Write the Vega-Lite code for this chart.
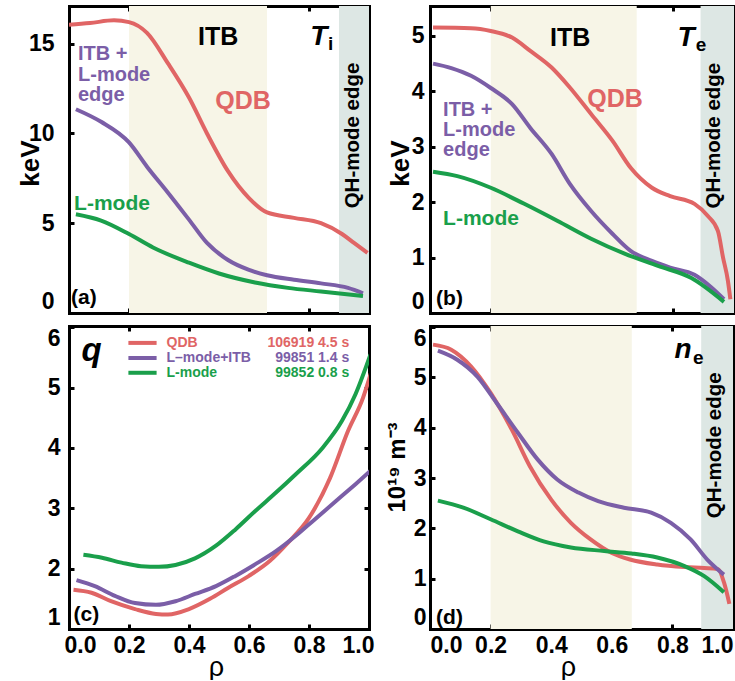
{
  "$schema": "https://vega.github.io/schema/vega-lite/v6.json",
  "padding": {"left": 17, "top": 4, "right": 0, "bottom": 0},
  "background": "white",
  "datasets": {
    "ti": [
      {"s": "QDB", "rho": 0.0, "val": 16.05}, {"s": "QDB", "rho": 0.07, "val": 16.15}, {"s": "QDB", "rho": 0.15, "val": 16.3}, {"s": "QDB", "rho": 0.2, "val": 16.2}, {"s": "QDB", "rho": 0.26, "val": 15.6}, {"s": "QDB", "rho": 0.33, "val": 13.9}, {"s": "QDB", "rho": 0.4, "val": 12.0}, {"s": "QDB", "rho": 0.46, "val": 10.0}, {"s": "QDB", "rho": 0.53, "val": 7.9}, {"s": "QDB", "rho": 0.6, "val": 6.4}, {"s": "QDB", "rho": 0.66, "val": 5.6}, {"s": "QDB", "rho": 0.75, "val": 5.3}, {"s": "QDB", "rho": 0.84, "val": 5.0}, {"s": "QDB", "rho": 0.91, "val": 4.4}, {"s": "QDB", "rho": 0.95, "val": 3.9}, {"s": "QDB", "rho": 0.995, "val": 3.35},
      {"s": "ITB", "rho": 0.023, "val": 11.35}, {"s": "ITB", "rho": 0.107, "val": 10.65}, {"s": "ITB", "rho": 0.2, "val": 9.5}, {"s": "ITB", "rho": 0.26, "val": 8.15}, {"s": "ITB", "rho": 0.33, "val": 6.7}, {"s": "ITB", "rho": 0.4, "val": 5.2}, {"s": "ITB", "rho": 0.46, "val": 3.9}, {"s": "ITB", "rho": 0.53, "val": 2.95}, {"s": "ITB", "rho": 0.6, "val": 2.4}, {"s": "ITB", "rho": 0.66, "val": 2.1}, {"s": "ITB", "rho": 0.75, "val": 1.85}, {"s": "ITB", "rho": 0.84, "val": 1.65}, {"s": "ITB", "rho": 0.93, "val": 1.4}, {"s": "ITB", "rho": 0.98, "val": 1.1},
      {"s": "L", "rho": 0.023, "val": 5.5}, {"s": "L", "rho": 0.107, "val": 5.15}, {"s": "L", "rho": 0.2, "val": 4.4}, {"s": "L", "rho": 0.28, "val": 3.65}, {"s": "L", "rho": 0.4, "val": 2.8}, {"s": "L", "rho": 0.5, "val": 2.2}, {"s": "L", "rho": 0.62, "val": 1.7}, {"s": "L", "rho": 0.73, "val": 1.4}, {"s": "L", "rho": 0.84, "val": 1.2}, {"s": "L", "rho": 0.98, "val": 0.95}
    ],
    "te": [
      {"s": "QDB", "rho": 0.01, "val": 5.15}, {"s": "QDB", "rho": 0.135, "val": 5.14}, {"s": "QDB", "rho": 0.2, "val": 5.09}, {"s": "QDB", "rho": 0.27, "val": 4.97}, {"s": "QDB", "rho": 0.33, "val": 4.73}, {"s": "QDB", "rho": 0.4, "val": 4.43}, {"s": "QDB", "rho": 0.46, "val": 4.07}, {"s": "QDB", "rho": 0.53, "val": 3.59}, {"s": "QDB", "rho": 0.6, "val": 3.11}, {"s": "QDB", "rho": 0.66, "val": 2.62}, {"s": "QDB", "rho": 0.73, "val": 2.26}, {"s": "QDB", "rho": 0.79, "val": 2.11}, {"s": "QDB", "rho": 0.87, "val": 1.97}, {"s": "QDB", "rho": 0.914, "val": 1.75}, {"s": "QDB", "rho": 0.947, "val": 1.48}, {"s": "QDB", "rho": 0.964, "val": 1.0}, {"s": "QDB", "rho": 0.98, "val": 0.58}, {"s": "QDB", "rho": 0.988, "val": 0.25},
      {"s": "ITB", "rho": 0.01, "val": 4.5}, {"s": "ITB", "rho": 0.07, "val": 4.42}, {"s": "ITB", "rho": 0.135, "val": 4.28}, {"s": "ITB", "rho": 0.2, "val": 4.06}, {"s": "ITB", "rho": 0.27, "val": 3.77}, {"s": "ITB", "rho": 0.33, "val": 3.34}, {"s": "ITB", "rho": 0.4, "val": 2.87}, {"s": "ITB", "rho": 0.46, "val": 2.33}, {"s": "ITB", "rho": 0.53, "val": 1.84}, {"s": "ITB", "rho": 0.6, "val": 1.43}, {"s": "ITB", "rho": 0.66, "val": 1.12}, {"s": "ITB", "rho": 0.73, "val": 0.94}, {"s": "ITB", "rho": 0.79, "val": 0.82}, {"s": "ITB", "rho": 0.87, "val": 0.69}, {"s": "ITB", "rho": 0.924, "val": 0.47}, {"s": "ITB", "rho": 0.967, "val": 0.25},
      {"s": "L", "rho": 0.01, "val": 2.55}, {"s": "L", "rho": 0.09, "val": 2.47}, {"s": "L", "rho": 0.2, "val": 2.26}, {"s": "L", "rho": 0.31, "val": 1.97}, {"s": "L", "rho": 0.42, "val": 1.66}, {"s": "L", "rho": 0.53, "val": 1.34}, {"s": "L", "rho": 0.64, "val": 1.07}, {"s": "L", "rho": 0.75, "val": 0.85}, {"s": "L", "rho": 0.86, "val": 0.63}, {"s": "L", "rho": 0.967, "val": 0.2}
    ],
    "q": [
      {"s": "QDB", "rho": 0.015, "val": 1.65}, {"s": "QDB", "rho": 0.075, "val": 1.6}, {"s": "QDB", "rho": 0.14, "val": 1.46}, {"s": "QDB", "rho": 0.22, "val": 1.33}, {"s": "QDB", "rho": 0.29, "val": 1.25}, {"s": "QDB", "rho": 0.33, "val": 1.24}, {"s": "QDB", "rho": 0.4, "val": 1.33}, {"s": "QDB", "rho": 0.47, "val": 1.5}, {"s": "QDB", "rho": 0.53, "val": 1.68}, {"s": "QDB", "rho": 0.6, "val": 1.88}, {"s": "QDB", "rho": 0.67, "val": 2.13}, {"s": "QDB", "rho": 0.73, "val": 2.43}, {"s": "QDB", "rho": 0.8, "val": 2.84}, {"s": "QDB", "rho": 0.87, "val": 3.5}, {"s": "QDB", "rho": 0.93, "val": 4.28}, {"s": "QDB", "rho": 0.98, "val": 4.83}, {"s": "QDB", "rho": 1.01, "val": 5.3},
      {"s": "ITB", "rho": 0.025, "val": 1.81}, {"s": "ITB", "rho": 0.086, "val": 1.71}, {"s": "ITB", "rho": 0.153, "val": 1.55}, {"s": "ITB", "rho": 0.22, "val": 1.43}, {"s": "ITB", "rho": 0.29, "val": 1.4}, {"s": "ITB", "rho": 0.355, "val": 1.46}, {"s": "ITB", "rho": 0.42, "val": 1.58}, {"s": "ITB", "rho": 0.49, "val": 1.71}, {"s": "ITB", "rho": 0.555, "val": 1.88}, {"s": "ITB", "rho": 0.62, "val": 2.07}, {"s": "ITB", "rho": 0.69, "val": 2.29}, {"s": "ITB", "rho": 0.755, "val": 2.54}, {"s": "ITB", "rho": 0.82, "val": 2.82}, {"s": "ITB", "rho": 0.89, "val": 3.12}, {"s": "ITB", "rho": 0.955, "val": 3.4}, {"s": "ITB", "rho": 1.005, "val": 3.62},
      {"s": "L", "rho": 0.048, "val": 2.23}, {"s": "L", "rho": 0.11, "val": 2.18}, {"s": "L", "rho": 0.175, "val": 2.1}, {"s": "L", "rho": 0.24, "val": 2.04}, {"s": "L", "rho": 0.3, "val": 2.03}, {"s": "L", "rho": 0.355, "val": 2.06}, {"s": "L", "rho": 0.42, "val": 2.17}, {"s": "L", "rho": 0.49, "val": 2.38}, {"s": "L", "rho": 0.555, "val": 2.65}, {"s": "L", "rho": 0.62, "val": 2.95}, {"s": "L", "rho": 0.69, "val": 3.26}, {"s": "L", "rho": 0.755, "val": 3.56}, {"s": "L", "rho": 0.845, "val": 4.0}, {"s": "L", "rho": 0.91, "val": 4.45}, {"s": "L", "rho": 0.955, "val": 4.89}, {"s": "L", "rho": 1.005, "val": 5.55}
    ],
    "ne": [
      {"s": "QDB", "rho": 0.01, "val": 5.65}, {"s": "QDB", "rho": 0.07, "val": 5.55}, {"s": "QDB", "rho": 0.135, "val": 5.22}, {"s": "QDB", "rho": 0.2, "val": 4.69}, {"s": "QDB", "rho": 0.27, "val": 3.96}, {"s": "QDB", "rho": 0.33, "val": 3.23}, {"s": "QDB", "rho": 0.4, "val": 2.57}, {"s": "QDB", "rho": 0.465, "val": 2.11}, {"s": "QDB", "rho": 0.53, "val": 1.78}, {"s": "QDB", "rho": 0.6, "val": 1.51}, {"s": "QDB", "rho": 0.66, "val": 1.38}, {"s": "QDB", "rho": 0.75, "val": 1.28}, {"s": "QDB", "rho": 0.84, "val": 1.23}, {"s": "QDB", "rho": 0.905, "val": 1.21}, {"s": "QDB", "rho": 0.95, "val": 1.19}, {"s": "QDB", "rho": 0.97, "val": 0.93}, {"s": "QDB", "rho": 0.988, "val": 0.5},
      {"s": "ITB", "rho": 0.026, "val": 5.53}, {"s": "ITB", "rho": 0.09, "val": 5.35}, {"s": "ITB", "rho": 0.157, "val": 5.01}, {"s": "ITB", "rho": 0.22, "val": 4.49}, {"s": "ITB", "rho": 0.29, "val": 3.9}, {"s": "ITB", "rho": 0.355, "val": 3.37}, {"s": "ITB", "rho": 0.42, "val": 2.97}, {"s": "ITB", "rho": 0.49, "val": 2.71}, {"s": "ITB", "rho": 0.555, "val": 2.54}, {"s": "ITB", "rho": 0.64, "val": 2.41}, {"s": "ITB", "rho": 0.73, "val": 2.31}, {"s": "ITB", "rho": 0.795, "val": 2.11}, {"s": "ITB", "rho": 0.86, "val": 1.78}, {"s": "ITB", "rho": 0.915, "val": 1.38}, {"s": "ITB", "rho": 0.97, "val": 1.08},
      {"s": "L", "rho": 0.026, "val": 2.55}, {"s": "L", "rho": 0.11, "val": 2.41}, {"s": "L", "rho": 0.2, "val": 2.18}, {"s": "L", "rho": 0.29, "val": 1.94}, {"s": "L", "rho": 0.375, "val": 1.74}, {"s": "L", "rho": 0.465, "val": 1.62}, {"s": "L", "rho": 0.575, "val": 1.55}, {"s": "L", "rho": 0.665, "val": 1.5}, {"s": "L", "rho": 0.75, "val": 1.42}, {"s": "L", "rho": 0.84, "val": 1.25}, {"s": "L", "rho": 0.905, "val": 1.05}, {"s": "L", "rho": 0.97, "val": 0.73}
    ]
  },
  "columns": 2,
  "spacing": {"row": 13, "column": 61},
  "bounds": "flush",
  "concat": [
    {
      "width": 300, "height": 307,
      "layer": [
        {"layer": [
          {"data": {"values": [{}]}, "mark": {"type": "rect", "color": "#f7f5e7"},
           "encoding": {
             "x": {"datum": 0.2, "type": "quantitative", "scale": {"domain": [0, 1], "nice": false, "zero": false}, "axis": {"orient": "bottom", "values": [0.2, 0.4, 0.6, 0.8], "labels": false, "title": null}},
             "x2": {"datum": 0.66},
             "y": {"datum": 0, "type": "quantitative", "scale": {"domain": [0, 17.1], "nice": false, "zero": false}, "axis": {"orient": "left", "values": [0, 5, 10, 15], "format": "d", "title": "keV", "labelPadding": 20, "titleX": -31, "titleY": 157, "titleBaseline": "alphabetic", "titleAlign": "center", "titleAngle": 270}},
             "y2": {"datum": 17.1}}},
          {"data": {"values": [{}]}, "mark": {"type": "rect", "color": "#dde7e4"},
           "encoding": {"x": {"datum": 0.9, "type": "quantitative"}, "x2": {"datum": 1}, "y": {"datum": 0, "type": "quantitative"}, "y2": {"datum": 17.1}}},
          {"data": {"name": "ti"}, "mark": {"type": "line", "strokeWidth": 4, "interpolate": "monotone", "clip": true},
           "encoding": {"x": {"field": "rho", "type": "quantitative"}, "y": {"field": "val", "type": "quantitative"},
             "color": {"field": "s", "type": "nominal", "scale": {"domain": ["QDB", "ITB", "L"], "range": ["#e06565", "#7b5ea7", "#1a9f4b"]}, "legend": null}}},
          {"data": {"values": [{}]}, "mark": {"type": "text", "text": "ITB", "fontSize": 25, "align": "center", "baseline": "alphabetic"},
           "encoding": {"x": {"datum": 0.497, "type": "quantitative"}, "y": {"datum": 14.91, "type": "quantitative"}}},
          {"data": {"values": [{}]}, "mark": {"type": "text", "text": "T", "fontSize": 28, "fontStyle": "italic", "align": "center", "baseline": "alphabetic"},
           "encoding": {"x": {"datum": 0.833, "type": "quantitative"}, "y": {"datum": 14.91, "type": "quantitative"}}},
          {"data": {"values": [{}]}, "mark": {"type": "text", "text": "i", "fontSize": 19, "align": "left", "baseline": "alphabetic"},
           "encoding": {"x": {"datum": 0.863, "type": "quantitative"}, "y": {"datum": 14.63, "type": "quantitative"}}},
          {"data": {"values": [{}]}, "mark": {"type": "text", "text": ["ITB +", "L-mode", "edge"], "lineHeight": 20.5, "fontSize": 20, "color": "#7b5ea7", "align": "left", "baseline": "alphabetic"},
           "encoding": {"x": {"datum": 0.03, "type": "quantitative"}, "y": {"datum": 14.08, "type": "quantitative"}}},
          {"data": {"values": [{}]}, "mark": {"type": "text", "text": "QDB", "fontSize": 25, "color": "#e06565", "align": "center", "baseline": "alphabetic"},
           "encoding": {"x": {"datum": 0.58, "type": "quantitative"}, "y": {"datum": 11.36, "type": "quantitative"}}},
          {"data": {"values": [{}]}, "mark": {"type": "text", "text": "L-mode", "fontSize": 21, "color": "#1a9f4b", "align": "left", "baseline": "alphabetic"},
           "encoding": {"x": {"datum": 0.017, "type": "quantitative"}, "y": {"datum": 5.71, "type": "quantitative"}}},
          {"data": {"values": [{}]}, "mark": {"type": "text", "text": "QH-mode edge", "fontSize": 20.5, "angle": 270, "align": "center", "baseline": "middle"},
           "encoding": {"x": {"datum": 0.946, "type": "quantitative"}, "y": {"datum": 9.89, "type": "quantitative"}}},
          {"data": {"values": [{}]}, "mark": {"type": "text", "text": "(a)", "fontSize": 21, "align": "left", "baseline": "middle"},
           "encoding": {"x": {"datum": 0.007, "type": "quantitative"}, "y": {"datum": 0.86, "type": "quantitative"}}}
        ]},
        {"data": {"values": [{}]}, "mark": {"type": "point", "opacity": 0},
         "encoding": {
           "x": {"datum": 0.5, "type": "quantitative", "axis": {"orient": "top", "values": [0.2, 0.4, 0.6, 0.8], "labels": false, "title": null}},
           "y": {"datum": 1, "type": "quantitative", "axis": {"orient": "right", "values": [5, 10, 15], "labels": false, "title": null}}}}
      ],
      "resolve": {"axis": {"x": "independent", "y": "independent"}}
    },
    {
      "width": 304, "height": 307,
      "layer": [
        {"layer": [
          {"data": {"values": [{}]}, "mark": {"type": "rect", "color": "#f7f5e7"},
           "encoding": {
             "x": {"datum": 0.2, "type": "quantitative", "scale": {"domain": [0, 1], "nice": false, "zero": false}, "axis": {"orient": "bottom", "values": [0.2, 0.4, 0.6, 0.8], "labels": false, "title": null}},
             "x2": {"datum": 0.68},
             "y": {"datum": 0, "type": "quantitative", "scale": {"domain": [0, 5.54], "nice": false, "zero": false}, "axis": {"orient": "left", "values": [0, 1, 2, 3, 4, 5], "format": "d", "title": "keV", "labelPadding": 11, "titleX": -22, "titleY": 157, "titleBaseline": "alphabetic", "titleAlign": "center", "titleAngle": 270}},
             "y2": {"datum": 5.54}}},
          {"data": {"values": [{}]}, "mark": {"type": "rect", "color": "#dde7e4"},
           "encoding": {"x": {"datum": 0.89, "type": "quantitative"}, "x2": {"datum": 1}, "y": {"datum": 0, "type": "quantitative"}, "y2": {"datum": 5.54}}},
          {"data": {"name": "te"}, "mark": {"type": "line", "strokeWidth": 4, "interpolate": "monotone", "clip": true},
           "encoding": {"x": {"field": "rho", "type": "quantitative"}, "y": {"field": "val", "type": "quantitative"},
             "color": {"field": "s", "type": "nominal", "legend": null}}},
          {"data": {"values": [{}]}, "mark": {"type": "text", "text": "ITB", "fontSize": 25, "align": "center", "baseline": "alphabetic"},
           "encoding": {"x": {"datum": 0.461, "type": "quantitative"}, "y": {"datum": 4.82, "type": "quantitative"}}},
          {"data": {"values": [{}]}, "mark": {"type": "text", "text": "T", "fontSize": 28, "fontStyle": "italic", "align": "center", "baseline": "alphabetic"},
           "encoding": {"x": {"datum": 0.842, "type": "quantitative"}, "y": {"datum": 4.82, "type": "quantitative"}}},
          {"data": {"values": [{}]}, "mark": {"type": "text", "text": "e", "fontSize": 19, "align": "left", "baseline": "alphabetic"},
           "encoding": {"x": {"datum": 0.874, "type": "quantitative"}, "y": {"datum": 4.73, "type": "quantitative"}}},
          {"data": {"values": [{}]}, "mark": {"type": "text", "text": ["ITB +", "L-mode", "edge"], "lineHeight": 20, "fontSize": 20, "color": "#7b5ea7", "align": "left", "baseline": "alphabetic"},
           "encoding": {"x": {"datum": 0.043, "type": "quantitative"}, "y": {"datum": 3.56, "type": "quantitative"}}},
          {"data": {"values": [{}]}, "mark": {"type": "text", "text": "QDB", "fontSize": 25, "color": "#e06565", "align": "center", "baseline": "alphabetic"},
           "encoding": {"x": {"datum": 0.609, "type": "quantitative"}, "y": {"datum": 3.71, "type": "quantitative"}}},
          {"data": {"values": [{}]}, "mark": {"type": "text", "text": "L-mode", "fontSize": 21, "color": "#1a9f4b", "align": "left", "baseline": "alphabetic"},
           "encoding": {"x": {"datum": 0.043, "type": "quantitative"}, "y": {"datum": 1.59, "type": "quantitative"}}},
          {"data": {"values": [{}]}, "mark": {"type": "text", "text": "QH-mode edge", "fontSize": 20.5, "angle": 270, "align": "center", "baseline": "middle"},
           "encoding": {"x": {"datum": 0.934, "type": "quantitative"}, "y": {"datum": 3.2, "type": "quantitative"}}},
          {"data": {"values": [{}]}, "mark": {"type": "text", "text": "(b)", "fontSize": 21, "align": "left", "baseline": "middle"},
           "encoding": {"x": {"datum": 0.02, "type": "quantitative"}, "y": {"datum": 0.25, "type": "quantitative"}}}
        ]},
        {"data": {"values": [{}]}, "mark": {"type": "point", "opacity": 0},
         "encoding": {
           "x": {"datum": 0.5, "type": "quantitative", "axis": {"orient": "top", "values": [0.2, 0.4, 0.6, 0.8], "labels": false, "title": null}},
           "y": {"datum": 1, "type": "quantitative", "axis": {"orient": "right", "values": [1, 2, 3, 4, 5], "labels": false, "title": null}}}}
      ],
      "resolve": {"axis": {"x": "independent", "y": "independent"}}
    },
    {
      "width": 300, "height": 303,
      "layer": [
        {"layer": [
          {"data": {"name": "q"}, "mark": {"type": "line", "strokeWidth": 4, "interpolate": "monotone", "clip": true},
           "encoding": {
             "x": {"field": "rho", "type": "quantitative", "scale": {"domain": [0, 1], "nice": false, "zero": false}, "axis": {"orient": "bottom", "values": [0, 0.1, 0.2, 0.3, 0.4, 0.5, 0.6, 0.7, 0.8, 0.9, 1.0], "format": ".1f", "labelExpr": "round(datum.value*10) % 2 === 0 ? datum.label : ''", "labelFlushOffset": 5, "title": "ρ", "titleFontWeight": "normal", "titleFontSize": 27, "labelPadding": 10, "titleX": 147, "titleY": 46, "titleBaseline": "alphabetic", "titleAlign": "center"}},
             "y": {"field": "val", "type": "quantitative", "scale": {"domain": [1, 6.02], "nice": false, "zero": false}, "axis": {"orient": "left", "values": [1, 2, 3, 4, 5, 6], "format": "d", "title": null, "labelPadding": 14}},
             "color": {"field": "s", "type": "nominal", "legend": null}}},
          {"data": {"values": [{}]}, "mark": {"type": "text", "text": "q", "fontSize": 33, "fontStyle": "italic", "align": "center", "baseline": "alphabetic"},
           "encoding": {"x": {"datum": 0.075, "type": "quantitative"}, "y": {"datum": 5.44, "type": "quantitative"}}},
          {"data": {"values": [{}]}, "mark": {"type": "rule", "strokeWidth": 4, "color": "#e06565"},
           "encoding": {"x": {"datum": 0.198, "type": "quantitative"}, "x2": {"datum": 0.292}, "y": {"datum": 5.74, "type": "quantitative"}}},
          {"data": {"values": [{}]}, "mark": {"type": "rule", "strokeWidth": 4, "color": "#7b5ea7"},
           "encoding": {"x": {"datum": 0.198, "type": "quantitative"}, "x2": {"datum": 0.292}, "y": {"datum": 5.49, "type": "quantitative"}}},
          {"data": {"values": [{}]}, "mark": {"type": "rule", "strokeWidth": 4, "color": "#1a9f4b"},
           "encoding": {"x": {"datum": 0.198, "type": "quantitative"}, "x2": {"datum": 0.292}, "y": {"datum": 5.245, "type": "quantitative"}}},
          {"data": {"values": [{}]}, "mark": {"type": "text", "text": "QDB", "fontSize": 14, "color": "#e06565", "align": "left", "baseline": "middle"},
           "encoding": {"x": {"datum": 0.325, "type": "quantitative"}, "y": {"datum": 5.74, "type": "quantitative"}}},
          {"data": {"values": [{}]}, "mark": {"type": "text", "text": "L–mode+ITB", "fontSize": 14, "color": "#7b5ea7", "align": "left", "baseline": "middle"},
           "encoding": {"x": {"datum": 0.325, "type": "quantitative"}, "y": {"datum": 5.49, "type": "quantitative"}}},
          {"data": {"values": [{}]}, "mark": {"type": "text", "text": "L-mode", "fontSize": 14, "color": "#1a9f4b", "align": "left", "baseline": "middle"},
           "encoding": {"x": {"datum": 0.325, "type": "quantitative"}, "y": {"datum": 5.245, "type": "quantitative"}}},
          {"data": {"values": [{}]}, "mark": {"type": "text", "text": "106919 4.5 s", "fontSize": 14, "color": "#e06565", "align": "right", "baseline": "middle"},
           "encoding": {"x": {"datum": 0.934, "type": "quantitative"}, "y": {"datum": 5.74, "type": "quantitative"}}},
          {"data": {"values": [{}]}, "mark": {"type": "text", "text": "99851 1.4 s", "fontSize": 14, "color": "#7b5ea7", "align": "right", "baseline": "middle"},
           "encoding": {"x": {"datum": 0.934, "type": "quantitative"}, "y": {"datum": 5.49, "type": "quantitative"}}},
          {"data": {"values": [{}]}, "mark": {"type": "text", "text": "99852 0.8 s", "fontSize": 14, "color": "#1a9f4b", "align": "right", "baseline": "middle"},
           "encoding": {"x": {"datum": 0.934, "type": "quantitative"}, "y": {"datum": 5.245, "type": "quantitative"}}},
          {"data": {"values": [{}]}, "mark": {"type": "text", "text": "(c)", "fontSize": 21, "align": "left", "baseline": "middle"},
           "encoding": {"x": {"datum": 0.015, "type": "quantitative"}, "y": {"datum": 1.23, "type": "quantitative"}}}
        ]},
        {"data": {"values": [{}]}, "mark": {"type": "point", "opacity": 0},
         "encoding": {
           "x": {"datum": 0.5, "type": "quantitative", "axis": {"orient": "top", "values": [0.2, 0.4, 0.6, 0.8], "labels": false, "title": null}},
           "y": {"datum": 2, "type": "quantitative", "axis": {"orient": "right", "values": [2, 3, 4, 5], "labels": false, "title": null}}}}
      ],
      "resolve": {"axis": {"x": "independent", "y": "independent"}}
    },
    {
      "width": 303, "height": 303,
      "layer": [
        {"layer": [
          {"data": {"values": [{}]}, "mark": {"type": "rect", "color": "#f7f5e7"},
           "encoding": {
             "x": {"datum": 0.2, "type": "quantitative", "scale": {"domain": [0, 1], "nice": false, "zero": false}, "axis": {"orient": "bottom", "values": [0, 0.2, 0.4, 0.6, 0.8, 1.0], "format": ".1f", "title": "ρ", "titleFontWeight": "normal", "titleFontSize": 27, "labelPadding": 10, "titleX": 138, "titleY": 46, "titleBaseline": "alphabetic", "titleAlign": "center"}},
             "x2": {"datum": 0.666},
             "y": {"datum": 0, "type": "quantitative", "scale": {"domain": [0, 6.02], "nice": false, "zero": false}, "axis": {"orient": "left", "values": [0, 1, 2, 3, 4, 5, 6], "format": "d", "title": "10¹⁹ m⁻³", "titleFontSize": 24, "labelPadding": 9, "titleX": -26, "titleY": 141, "titleBaseline": "alphabetic", "titleAlign": "center", "titleAngle": 270}},
             "y2": {"datum": 6.02}}},
          {"data": {"values": [{}]}, "mark": {"type": "rect", "color": "#dde7e4"},
           "encoding": {"x": {"datum": 0.895, "type": "quantitative"}, "x2": {"datum": 1}, "y": {"datum": 0, "type": "quantitative"}, "y2": {"datum": 6.02}}},
          {"data": {"name": "ne"}, "mark": {"type": "line", "strokeWidth": 4, "interpolate": "monotone", "clip": true},
           "encoding": {"x": {"field": "rho", "type": "quantitative"}, "y": {"field": "val", "type": "quantitative"},
             "color": {"field": "s", "type": "nominal", "legend": null}}},
          {"data": {"values": [{}]}, "mark": {"type": "text", "text": "n", "fontSize": 28, "fontStyle": "italic", "align": "center", "baseline": "alphabetic"},
           "encoding": {"x": {"datum": 0.835, "type": "quantitative"}, "y": {"datum": 5.39, "type": "quantitative"}}},
          {"data": {"values": [{}]}, "mark": {"type": "text", "text": "e", "fontSize": 19, "align": "left", "baseline": "alphabetic"},
           "encoding": {"x": {"datum": 0.868, "type": "quantitative"}, "y": {"datum": 5.27, "type": "quantitative"}}},
          {"data": {"values": [{}]}, "mark": {"type": "text", "text": "QH-mode edge", "fontSize": 20.5, "angle": 270, "align": "center", "baseline": "middle"},
           "encoding": {"x": {"datum": 0.94, "type": "quantitative"}, "y": {"datum": 3.65, "type": "quantitative"}}},
          {"data": {"values": [{}]}, "mark": {"type": "text", "text": "(d)", "fontSize": 21, "align": "left", "baseline": "middle"},
           "encoding": {"x": {"datum": 0.02, "type": "quantitative"}, "y": {"datum": 0.22, "type": "quantitative"}}}
        ]},
        {"data": {"values": [{}]}, "mark": {"type": "point", "opacity": 0},
         "encoding": {
           "x": {"datum": 0.5, "type": "quantitative", "axis": {"orient": "top", "values": [0.2, 0.4, 0.6, 0.8], "labels": false, "title": null}},
           "y": {"datum": 1, "type": "quantitative", "axis": {"orient": "right", "values": [1, 2, 3, 4, 5], "labels": false, "title": null}}}}
      ],
      "resolve": {"axis": {"x": "independent", "y": "independent"}}
    }
  ],
  "config": {
    "font": "Liberation Sans",
    "view": {"stroke": null},
    "axis": {
      "domainColor": "black", "domainWidth": 3, "domainCap": "square",
      "tickColor": "black", "tickWidth": 3, "tickSize": -5,
      "grid": false,
      "labelFont": "Liberation Sans", "labelFontSize": 23, "labelFontWeight": "bold", "labelColor": "black",
      "titleFont": "Liberation Sans", "titleFontSize": 26, "titleFontWeight": "bold", "titleColor": "black",
      "zindex": 1, "labelFlush": 2, "labelOverlap": false
    },
    "text": {"font": "Liberation Sans", "fontWeight": "bold", "color": "black"}
  }
}
